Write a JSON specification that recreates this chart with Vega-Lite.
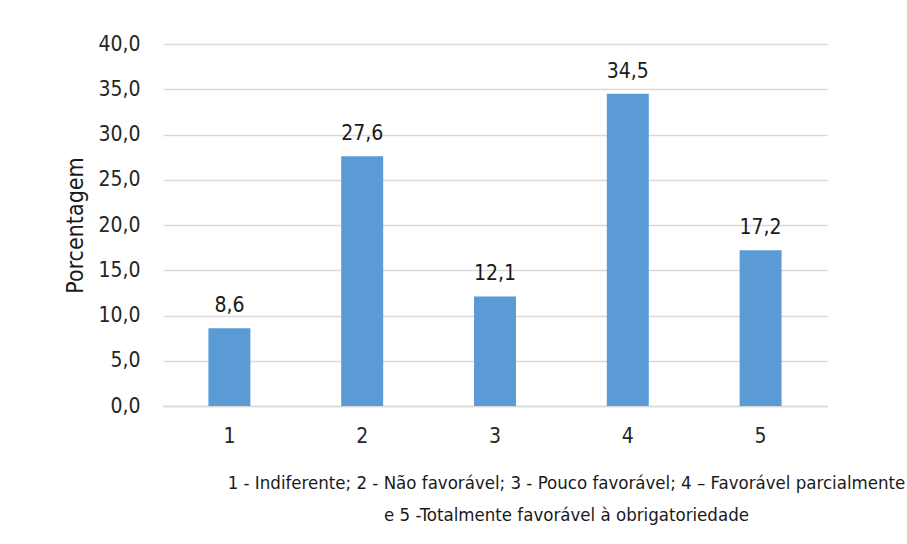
{
  "$schema": "https://vega.github.io/schema/vega-lite/v6.json",
  "width": 664,
  "height": 362,
  "autosize": {"type": "none"},
  "padding": {"left": 163, "top": 44, "right": 80, "bottom": 138},
  "background": "white",
  "config": {
    "locale": {"number": {"decimal": ",", "thousands": ".", "grouping": [3], "currency": ["R$", ""]}},
    "font": "DejaVu Sans Condensed",
    "view": {"stroke": null}
  },
  "data": {
    "values": [
      {"categoria": "1", "porcentagem": 8.6},
      {"categoria": "2", "porcentagem": 27.6},
      {"categoria": "3", "porcentagem": 12.1},
      {"categoria": "4", "porcentagem": 34.5},
      {"categoria": "5", "porcentagem": 17.2}
    ]
  },
  "encoding": {
    "x": {
      "field": "categoria",
      "type": "ordinal",
      "scale": {"paddingInner": 0.684, "paddingOuter": 0.342},
      "axis": {
        "title": ["1 - Indiferente; 2 - Não favorável; 3 - Pouco favorável; 4 – Favorável parcialmente", "e 5 -Totalmente favorável à obrigatoriedade"],
        "titleFont": "DejaVu Sans Condensed",
        "titleFontSize": 18.5,
        "titleFontWeight": "normal",
        "titleColor": "#1a1a1a",
        "titleLineHeight": 32,
        "titlePadding": 27,
        "titleX": 403,
        "labelAngle": 0,
        "labelFontSize": 21,
        "labelColor": "#262626",
        "labelPadding": 19,
        "ticks": false,
        "tickSize": 0,
        "domainColor": "#d9d9d9",
        "domainWidth": 1.5
      }
    },
    "y": {
      "field": "porcentagem",
      "type": "quantitative",
      "scale": {"domain": [0, 40], "nice": false},
      "axis": {
        "title": "Porcentagem",
        "titleFontSize": 23,
        "titleFontWeight": "normal",
        "titleColor": "#1a1a1a",
        "titlePadding": 10,
        "values": [0, 5, 10, 15, 20, 25, 30, 35, 40],
        "format": ".1f",
        "labelFontSize": 21,
        "labelColor": "#262626",
        "labelPadding": 23,
        "ticks": false,
        "tickSize": 0,
        "domain": false,
        "gridColor": "#d9d9d9",
        "gridWidth": 1.5
      }
    }
  },
  "layer": [
    {"mark": {"type": "bar", "color": "#5b9bd5"}},
    {
      "mark": {"type": "text", "baseline": "alphabetic", "dy": -16, "fontSize": 21, "color": "#1a1a1a"},
      "encoding": {"text": {"field": "porcentagem", "type": "quantitative", "format": ".1f"}}
    }
  ]
}
